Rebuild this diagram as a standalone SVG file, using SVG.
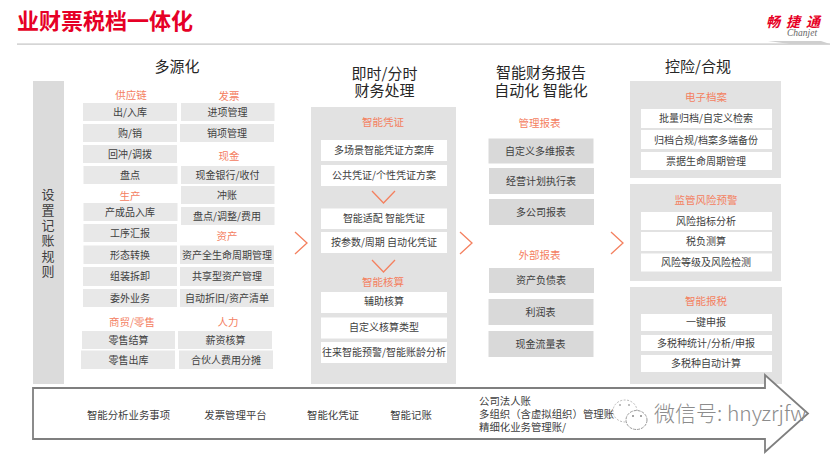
<svg xmlns="http://www.w3.org/2000/svg" width="830" height="454" viewBox="0 0 830 454">
<style>
text{font-family:"Noto Sans CJK SC","Noto Sans",sans-serif;fill:#404040;font-size:10px;text-anchor:middle}
.h{font-size:15px;fill:#262626}
.o{font-size:10.5px;fill:#f4805f}
.g{fill:#e8e8e8}
.w{fill:#fff}
.d{fill:#d9d9d9}
.p{fill:#e2e2e2}
.c{fill:none;stroke:#f4805f;stroke-width:1.3}
.l{text-anchor:start}
.b{font-size:10.4px}
</style>
<rect width="830" height="454" fill="#fff"/>
<g id="title">
<text x="17" y="29" class="l" style="font-size:22px;font-weight:700;fill:#e60026">业财票税档一体化</text>
<rect x="17" y="43.5" width="813" height="1.2" fill="#c4c4c4"/>
</g>
<g id="logo">
<text x="766" y="27" class="l" style="font-size:14px;font-weight:700;font-style:italic;fill:#e60026;letter-spacing:6px">畅捷通</text>
<text x="787" y="36" class="l" style="font-size:9.5px;font-style:italic;fill:#666;font-family:'Liberation Serif',serif">Chanjet</text>
<path d="M768 41H821L830 44H790Z" fill="#cfcfcf"/>
</g>
<g id="headings">
<text x="177" y="72" class="h">多源化</text>
<text x="384.5" y="79" class="h">即时/分时</text>
<text x="384.5" y="96" class="h">财务处理</text>
<text x="541" y="78" class="h">智能财务报告</text>
<text x="541" y="96" class="h">自动化 智能化</text>
<text x="698" y="72" class="h">控险/合规</text>
</g>
<g id="rule-bar">
<rect x="33" y="81" width="31" height="303" class="d" fill-opacity=".95"/>
<text x="48" y="199" style="font-size:13px">设</text>
<text x="48" y="215" style="font-size:13px">置</text>
<text x="48" y="230" style="font-size:13px">记</text>
<text x="48" y="245" style="font-size:13px">账</text>
<text x="48" y="261" style="font-size:13px">规</text>
<text x="48" y="276" style="font-size:13px">则</text>
</g>
<g id="multi-source">
<g id="supply">
<text x="131" y="99" class="o">供应链</text>
<rect x="83" y="103" width="94" height="18" class="g"/><text x="130" y="115.500">出/入库</text>
<rect x="83" y="124" width="94" height="18" class="g"/><text x="130" y="136.500">购/销</text>
<rect x="83" y="145" width="94" height="18" class="g"/><text x="130" y="157.500">回冲/调拨</text>
<rect x="83.500" y="166" width="94" height="18" class="g"/><text x="130" y="178.500">盘点</text>
</g>
<g id="production">
<text x="130" y="200" class="o">生产</text>
<rect x="83.500" y="203" width="94" height="18" class="g"/><text x="130" y="216">产成品入库</text>
<rect x="83.500" y="224" width="93.500" height="18" class="g"/><text x="130" y="237">工序汇报</text>
<rect x="83.500" y="245.500" width="93.500" height="18.500" class="g"/><text x="130" y="259">形态转换</text>
<rect x="83" y="267" width="94" height="19" class="g"/><text x="130" y="280">组装拆卸</text>
<rect x="83" y="289" width="94" height="18" class="g"/><text x="130" y="301.500">委外业务</text>
</g>
<g id="retail">
<text x="132" y="326" class="o">商贸/零售</text>
<rect x="82" y="331" width="93" height="18" class="g"/><text x="128.500" y="343.500">零售结算</text>
<rect x="81" y="350.500" width="94" height="18.500" class="g"/><text x="128.500" y="363.500">零售出库</text>
</g>
<g id="invoice">
<text x="229" y="100" class="o">发票</text>
<rect x="181" y="103" width="93.500" height="18" class="g"/><text x="227.500" y="115.500">进项管理</text>
<rect x="180" y="124" width="94" height="18" class="g"/><text x="227" y="136.500">销项管理</text>
</g>
<g id="cash">
<text x="229" y="160" class="o">现金</text>
<rect x="181" y="166" width="93.500" height="18" class="g"/><text x="227.500" y="178.500">现金银行/收付</text>
<rect x="181" y="186" width="93.500" height="18" class="g"/><text x="227" y="199">冲账</text>
<rect x="181" y="207" width="93.500" height="18" class="g"/><text x="227" y="220">盘点/调整/费用</text>
</g>
<g id="assets">
<text x="227" y="240" class="o">资产</text>
<rect x="180" y="245.500" width="94" height="18.500" class="g"/><text x="227" y="259">资产全生命周期管理</text>
<rect x="180" y="267" width="94" height="19" class="g"/><text x="227" y="280">共享型资产管理</text>
<rect x="180" y="289" width="94" height="18" class="g"/><text x="227" y="301.500">自动折旧/资产清单</text>
</g>
<g id="hr">
<text x="228" y="326" class="o">人力</text>
<rect x="178" y="331" width="94" height="18" class="g"/><text x="225.500" y="343.500">薪资核算</text>
<rect x="179" y="350.500" width="94" height="18.500" class="g"/><text x="226" y="363.500">合伙人费用分摊</text>
</g>
</g>
<g id="realtime">
<rect x="311" y="107" width="145" height="277" class="p"/>
<text x="383" y="126" class="o">智能凭证</text>
<rect x="321" y="140" width="126" height="21" class="w"/><text x="384" y="154">多场景智能凭证方案库</text>
<rect x="321" y="165" width="126" height="21" class="w"/><text x="384" y="179">公共凭证/个性凭证方案</text>
<rect x="321" y="208.500" width="126" height="20.500" class="w"/><text x="384" y="222">智能适配  智能凭证</text>
<rect x="321" y="232" width="126" height="21" class="w"/><text x="384" y="246">按参数/周期 自动化凭证</text>
<text x="383" y="286" class="o">智能核算</text>
<rect x="321" y="292" width="126" height="21" class="w"/><text x="384" y="305">辅助核算</text>
<rect x="321" y="317.500" width="126" height="21" class="w"/><text x="384" y="331">自定义核算类型</text>
<rect x="321" y="342" width="126" height="21" class="w"/><text x="384" y="356">往来智能预警/智能账龄分析</text>
</g>
<g id="reports">
<text x="539.500" y="126.500" class="o">管理报表</text>
<rect x="488.500" y="138.500" width="105" height="25" class="d"/><text x="540" y="154.500">自定义多维报表</text>
<rect x="489" y="168" width="105" height="26" class="d"/><text x="541" y="185">经营计划执行表</text>
<rect x="489" y="199" width="105" height="26" class="d"/><text x="541" y="215.500">多公司报表</text>
<text x="539.500" y="259" class="o">外部报表</text>
<rect x="489" y="268" width="105" height="25" class="d"/><text x="541" y="284">资产负债表</text>
<rect x="488.500" y="299" width="105" height="26" class="d"/><text x="540.500" y="316">利润表</text>
<rect x="488.500" y="331" width="105" height="26" class="d"/><text x="540.500" y="347.500">现金流量表</text>
</g>
<g id="archive">
<rect x="630" y="81" width="151" height="97" class="p"/>
<text x="706" y="101" class="o">电子档案</text>
<rect x="641" y="109" width="131" height="19" class="w"/><text x="706" y="122">批量归档/自定义检索</text>
<rect x="641" y="130" width="131" height="19" class="w"/><text x="706" y="143.500">归档合规/档案多端备份</text>
<rect x="641" y="152" width="131" height="18" class="w"/><text x="706" y="164.500">票据生命周期管理</text>
</g>
<g id="risk">
<rect x="630" y="184" width="151" height="97" class="p"/>
<text x="706" y="204" class="o">监管风险预警</text>
<rect x="641" y="212" width="131" height="18" class="w"/><text x="706" y="224.500">风险指标分析</text>
<rect x="641" y="232" width="131" height="19" class="w"/><text x="706" y="245">税负测算</text>
<rect x="641" y="253.500" width="131" height="18" class="w"/><text x="706" y="266">风险等级及风险检测</text>
</g>
<g id="tax">
<rect x="630" y="287" width="152" height="97" class="p"/>
<text x="706" y="305" class="o">智能报税</text>
<rect x="641" y="314" width="131" height="17" class="w"/><text x="706" y="326">一键申报</text>
<rect x="641" y="335" width="131" height="16" class="w"/><text x="706" y="347">多税种统计/分析/申报</text>
<rect x="641" y="355" width="131" height="17" class="w"/><text x="706" y="367">多税种自动计算</text>
</g>
<g id="connectors">
<path class="c" d="M295 232L307 243L295 254"/>
<path class="c" d="M460 232L472 243L460 254"/>
<path class="c" d="M611 232L623 243L611 254"/>
<path class="c" d="M372 191L383.500 203L395 191"/>
<path class="c" d="M372 260L383.500 272L395 260"/>
</g>
<g id="flow-arrow">
<path d="M33 388H765V375L808 413.500L765 452V439H33Z" fill="#fff" stroke="#7f7f7f" stroke-width="1.800"/>
<text x="128.500" y="419" class="b">智能分析业务事项</text>
<text x="235.500" y="419" class="b">发票管理平台</text>
<text x="333" y="419" class="b">智能化凭证</text>
<text x="411" y="419" class="b">智能记账</text>
<text x="479" y="405" class="b l">公司法人账</text>
<text x="479" y="418" class="b l">多组织（含虚拟组织）管理账</text>
<text x="479" y="431" class="b l">精细化业务管理账/</text>
</g>
<g id="watermark">
<ellipse cx="625" cy="411" rx="12" ry="11" fill="#fff" stroke="#bbb" stroke-dasharray="2 1.500"/>
<ellipse cx="636.500" cy="420" rx="10.500" ry="9.500" fill="#fff" stroke="#999" stroke-dasharray="3 1"/>
<circle cx="620" cy="405" r="1" fill="#aaa"/><circle cx="629" cy="405" r="1" fill="#aaa"/>
<circle cx="633" cy="416" r="1" fill="#888"/><circle cx="641" cy="416" r="1" fill="#888"/>
<text x="654" y="421" class="l" style="font-size:21px;fill:#8c8c8c;font-weight:300">微信号: hnyzrjfw</text>
</g>
</svg>
